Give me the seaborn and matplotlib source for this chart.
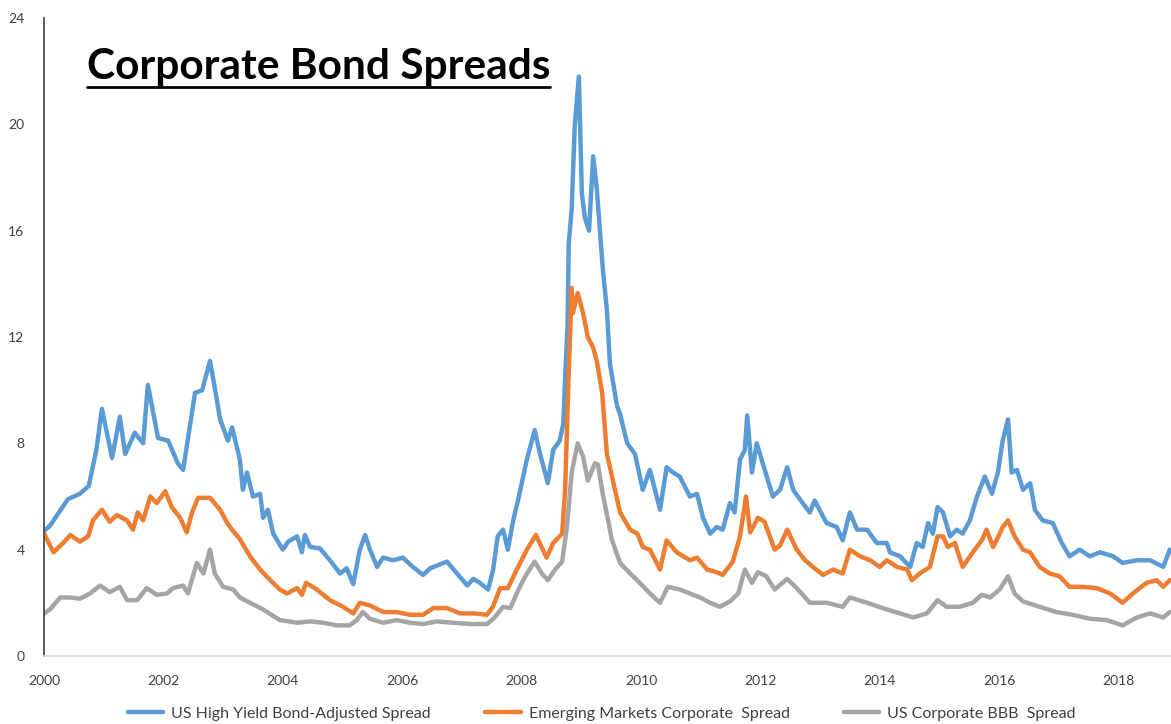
import numpy as np
import pandas as pd
import seaborn as sns
import matplotlib.pyplot as plt
from matplotlib.lines import Line2D

# values (year, spread in %)
hy_years = [2000.0, 2000.1, 2000.25, 2000.4, 2000.6, 2000.75, 2000.88, 2000.97, 2001.14, 2001.27,
            2001.36, 2001.52, 2001.66, 2001.74, 2001.91, 2002.08, 2002.24, 2002.33, 2002.53, 2002.65,
            2002.78, 2002.86, 2002.95, 2003.08, 2003.15, 2003.28, 2003.33, 2003.40, 2003.50, 2003.62,
            2003.67, 2003.75, 2003.84, 2004.0, 2004.09, 2004.24, 2004.32, 2004.37, 2004.46, 2004.62,
            2004.79, 2004.96, 2005.07, 2005.18, 2005.29, 2005.38, 2005.46, 2005.58, 2005.68, 2005.85,
            2006.01, 2006.18, 2006.35, 2006.47, 2006.58, 2006.75, 2006.92, 2007.09, 2007.19, 2007.3,
            2007.44, 2007.52, 2007.6, 2007.69, 2007.77, 2007.86, 2007.94, 2008.09, 2008.22, 2008.31,
            2008.44, 2008.53, 2008.64, 2008.70, 2008.74, 2008.77, 2008.79, 2008.84, 2008.89, 2008.96,
            2009.01, 2009.06, 2009.13, 2009.2, 2009.26, 2009.31, 2009.36, 2009.43, 2009.48, 2009.6,
            2009.65, 2009.77, 2009.90, 2010.03, 2010.15, 2010.32, 2010.43, 2010.54, 2010.65, 2010.82,
            2010.94, 2011.04, 2011.16, 2011.27, 2011.37, 2011.49, 2011.57, 2011.66, 2011.74, 2011.78,
            2011.86, 2011.94, 2012.04, 2012.21, 2012.33, 2012.45, 2012.55, 2012.71, 2012.83, 2012.91,
            2013.11, 2013.28, 2013.38, 2013.5, 2013.62, 2013.79, 2013.95, 2014.12, 2014.17, 2014.34,
            2014.51, 2014.62, 2014.72, 2014.81, 2014.89, 2014.97, 2015.06, 2015.18, 2015.29, 2015.39,
            2015.51, 2015.63, 2015.76, 2015.88, 2015.98, 2016.06, 2016.15, 2016.21, 2016.30, 2016.40,
            2016.52, 2016.6, 2016.73, 2016.90, 2017.05, 2017.18, 2017.35, 2017.52, 2017.69, 2017.91,
            2018.07, 2018.31, 2018.53, 2018.75, 2018.86]
hy_vals = [4.7, 4.9, 5.4, 5.9, 6.1, 6.4, 7.8, 9.3, 7.45, 9.0,
           7.6, 8.4, 8.0, 10.2, 8.2, 8.1, 7.25, 7.0, 9.9, 10.0,
           11.1, 10.1, 8.9, 8.1, 8.6, 7.4, 6.25, 6.9, 6.0, 6.1,
           5.2, 5.5, 4.6, 4.0, 4.3, 4.5, 3.9, 4.55, 4.1, 4.05,
           3.6, 3.1, 3.3, 2.7, 4.0, 4.55, 4.0, 3.35, 3.7, 3.6,
           3.7, 3.35, 3.05, 3.3, 3.4, 3.55, 3.1, 2.65, 2.9, 2.75,
           2.5, 3.2, 4.5, 4.75, 4.0, 5.1, 5.85, 7.4, 8.5, 7.6,
           6.5, 7.75, 8.1, 8.75, 11.0, 12.4, 15.5, 16.8, 19.9, 21.8,
           17.4, 16.5, 16.0, 18.8, 17.6, 16.1, 14.6, 13.0, 11.0, 9.4,
           9.1, 8.0, 7.6, 6.25, 7.0, 5.5, 7.1, 6.9, 6.75, 6.0,
           6.1, 5.2, 4.6, 4.85, 4.75, 5.75, 5.4, 7.4, 7.75, 9.05,
           6.9, 8.0, 7.25, 6.0, 6.25, 7.1, 6.25, 5.75, 5.4, 5.85,
           5.0, 4.85, 4.35, 5.4, 4.75, 4.75, 4.25, 4.25, 3.9, 3.75,
           3.35, 4.25, 4.1, 5.0, 4.6, 5.6, 5.4, 4.5, 4.75, 4.6,
           5.1, 6.0, 6.75, 6.1, 6.9, 8.1, 8.9, 6.9, 7.0, 6.25,
           6.5, 5.5, 5.1, 5.0, 4.25, 3.75, 4.0, 3.75, 3.9, 3.75,
           3.5, 3.6, 3.6, 3.35, 4.0]

em_years = [2000.0, 2000.16, 2000.32, 2000.44, 2000.6, 2000.74, 2000.82, 2000.97, 2001.1, 2001.22,
            2001.39, 2001.49, 2001.57, 2001.66, 2001.78, 2001.89, 2002.03, 2002.14, 2002.28, 2002.39,
            2002.48, 2002.58, 2002.78, 2002.95, 2003.07, 2003.15, 2003.28, 2003.45, 2003.62, 2003.79,
            2003.95, 2004.07, 2004.24, 2004.32, 2004.39, 2004.57, 2004.79, 2005.01, 2005.18, 2005.29,
            2005.46, 2005.68, 2005.91, 2006.13, 2006.35, 2006.52, 2006.75, 2006.97, 2007.19, 2007.42,
            2007.52, 2007.64, 2007.77, 2007.92, 2008.09, 2008.24, 2008.42, 2008.53, 2008.68, 2008.73,
            2008.78, 2008.84, 2008.86, 2008.94, 2009.03, 2009.11, 2009.20, 2009.26, 2009.35, 2009.43,
            2009.5, 2009.65, 2009.82, 2009.94, 2010.03, 2010.15, 2010.32, 2010.43, 2010.6, 2010.82,
            2010.94, 2011.11, 2011.27, 2011.37, 2011.54, 2011.66, 2011.76, 2011.83, 2011.96, 2012.07,
            2012.24, 2012.33, 2012.45, 2012.61, 2012.75, 2012.88, 2013.05, 2013.22, 2013.38, 2013.5,
            2013.67, 2013.84, 2014.0, 2014.12, 2014.29, 2014.46, 2014.54, 2014.67, 2014.84, 2014.97,
            2015.06, 2015.14, 2015.26, 2015.39, 2015.56, 2015.71, 2015.79, 2015.9, 2016.01, 2016.06,
            2016.15, 2016.26, 2016.40, 2016.52, 2016.68, 2016.85, 2017.01, 2017.18, 2017.40, 2017.64,
            2017.86, 2018.07, 2018.24, 2018.47, 2018.64, 2018.75, 2018.86]
em_vals = [4.6, 3.9, 4.25, 4.55, 4.3, 4.5, 5.1, 5.5, 5.05, 5.3,
           5.1, 4.75, 5.4, 5.1, 6.0, 5.75, 6.2, 5.6, 5.2, 4.65,
           5.4, 5.95, 5.95, 5.5, 5.0, 4.75, 4.4, 3.75, 3.25, 2.85,
           2.5, 2.35, 2.55, 2.3, 2.75, 2.5, 2.1, 1.85, 1.6, 2.0,
           1.9, 1.65, 1.65, 1.55, 1.55, 1.8, 1.8, 1.6, 1.6, 1.55,
           1.85, 2.55, 2.55, 3.25, 4.0, 4.55, 3.7, 4.25, 4.6, 6.25,
           10.0, 13.85, 12.9, 13.65, 12.9, 12.0, 11.6, 11.1, 9.9, 7.6,
           6.9, 5.4, 4.75, 4.6, 4.1, 4.0, 3.25, 4.35, 3.9, 3.6,
           3.7, 3.25, 3.15, 3.05, 3.55, 4.5, 6.0, 4.65, 5.2, 5.05,
           4.0, 4.15, 4.75, 4.0, 3.6, 3.35, 3.05, 3.25, 3.1, 4.0,
           3.75, 3.6, 3.35, 3.6, 3.35, 3.25, 2.85, 3.1, 3.35, 4.5,
           4.5, 4.1, 4.25, 3.35, 3.9, 4.35, 4.75, 4.1, 4.6, 4.85,
           5.1, 4.5, 4.0, 3.9, 3.35, 3.1, 3.0, 2.6, 2.6, 2.55,
           2.35, 2.0, 2.35, 2.75, 2.85, 2.6, 2.85]

bbb_years = [2000.0, 2000.1, 2000.27, 2000.44, 2000.6, 2000.77, 2000.94, 2001.1, 2001.27, 2001.39,
             2001.56, 2001.72, 2001.89, 2002.06, 2002.16, 2002.33, 2002.41, 2002.56, 2002.67, 2002.78,
             2002.86, 2003.0, 2003.17, 2003.28, 2003.45, 2003.67, 2003.95, 2004.24, 2004.46, 2004.68,
             2004.9, 2005.12, 2005.24, 2005.34, 2005.46, 2005.68, 2005.91, 2006.13, 2006.35, 2006.58,
             2006.85, 2007.14, 2007.42, 2007.55, 2007.69, 2007.81, 2007.97, 2008.09, 2008.22, 2008.34,
             2008.44, 2008.56, 2008.68, 2008.76, 2008.84, 2008.94, 2009.03, 2009.11, 2009.23, 2009.28,
             2009.36, 2009.45, 2009.51, 2009.65, 2009.82, 2009.98, 2010.15, 2010.32, 2010.45, 2010.65,
             2010.82, 2010.99, 2011.16, 2011.32, 2011.49, 2011.63, 2011.74, 2011.86, 2011.96, 2012.10,
             2012.24, 2012.45, 2012.61, 2012.83, 2013.11, 2013.38, 2013.5, 2013.79, 2014.05, 2014.34,
             2014.56, 2014.79, 2014.97, 2015.12, 2015.34, 2015.56, 2015.71, 2015.85, 2016.01, 2016.15,
             2016.26, 2016.40, 2016.68, 2016.96, 2017.23, 2017.52, 2017.8, 2018.07, 2018.31, 2018.53,
             2018.75, 2018.86]
bbb_vals = [1.6, 1.75, 2.2, 2.2, 2.15, 2.35, 2.65, 2.4, 2.6, 2.1,
            2.1, 2.55, 2.3, 2.35, 2.55, 2.65, 2.35, 3.5, 3.1, 4.0,
            3.1, 2.6, 2.5, 2.2, 2.0, 1.75, 1.35, 1.25, 1.3, 1.25,
            1.15, 1.15, 1.35, 1.65, 1.4, 1.25, 1.35, 1.25, 1.2, 1.3,
            1.25, 1.2, 1.2, 1.45, 1.85, 1.8, 2.6, 3.1, 3.55, 3.1,
            2.85, 3.25, 3.55, 4.85, 6.9, 8.0, 7.5, 6.6, 7.25, 7.2,
            6.1, 5.1, 4.4, 3.5, 3.1, 2.75, 2.35, 2.0, 2.6, 2.5,
            2.35, 2.2, 2.0, 1.85, 2.05, 2.35, 3.25, 2.75, 3.15, 3.0,
            2.5, 2.9, 2.55, 2.0, 2.0, 1.85, 2.2, 2.0, 1.8, 1.6,
            1.45, 1.6, 2.1, 1.85, 1.85, 2.0, 2.3, 2.2, 2.5, 3.0,
            2.35, 2.05, 1.85, 1.65, 1.55, 1.4, 1.35, 1.15, 1.45, 1.6,
            1.45, 1.65]

series_names = ["US High Yield Bond-Adjusted Spread",
                "Emerging Markets Corporate  Spread",
                "US Corporate BBB  Spread"]
colors = ["#5B9BD5", "#ED7D31", "#A5A5A5"]
year_ticks = list(range(2000, 2019, 2))
y_ticks = [0, 4, 8, 12, 16, 20, 24]

frames = []
for name, xs, ys in zip(series_names,
                        [hy_years, em_years, bbb_years],
                        [hy_vals, em_vals, bbb_vals]):
    frames.append(pd.DataFrame({"year": xs, "spread": ys, "series": name}))
df = pd.concat(frames, ignore_index=True)

sns.set_style("white")
plt.rcParams['font.family'] = ['Lato', 'DejaVu Sans']

fig = plt.figure(figsize=(11.71, 7.24), dpi=100)
ax = fig.add_axes([0.0376, 0.094, 0.9624, 0.881])

sns.lineplot(data=df, x="year", y="spread", hue="series", hue_order=series_names,
             palette=colors, estimator=None, linewidth=3.2, legend=False, ax=ax)

ax.set_xlim(2000, 2018.88)
ax.set_ylim(0, 24)
ax.set_xticks(year_ticks)
ax.set_xticklabels([str(y) for y in year_ticks])
ax.set_yticks(y_ticks)
ax.set_xlabel("")
ax.set_ylabel("")

for side in ["top", "right"]:
    ax.spines[side].set_visible(False)
ax.spines["left"].set_color("#404040")
ax.spines["left"].set_linewidth(1.2)
ax.spines["bottom"].set_color("#d9d9d9")
ax.spines["bottom"].set_linewidth(1.2)
ax.tick_params(axis="y", direction="in", length=4, color="#404040", pad=14,
               labelsize=10, labelcolor="#404040")
ax.tick_params(axis="x", direction="out", length=5, color="#d9d9d9", pad=9,
               labelsize=10, labelcolor="#404040")

# title with underline
title = ax.text(0.038, 0.905, "Corporate Bond Spreads", transform=ax.transAxes,
                fontsize=30.5, fontweight="bold", color="black", ha="left", va="baseline")
fig.canvas.draw()
bb = title.get_window_extent().transformed(ax.transAxes.inverted())
ax.plot([bb.x0, bb.x1], [0.905 - 0.013, 0.905 - 0.013], transform=ax.transAxes,
        color="black", linewidth=2, clip_on=False)

handles = [Line2D([0], [0], color=c, linewidth=3.2) for c in colors]
fig.legend(handles, series_names, loc="center", bbox_to_anchor=(0.514, 0.014),
           ncol=3, frameon=False, fontsize=11.5, handlelength=2.2,
           columnspacing=3.4, handletextpad=0.5, labelcolor="#404040",
           borderpad=0)

fig.savefig("out.png", dpi=100)
